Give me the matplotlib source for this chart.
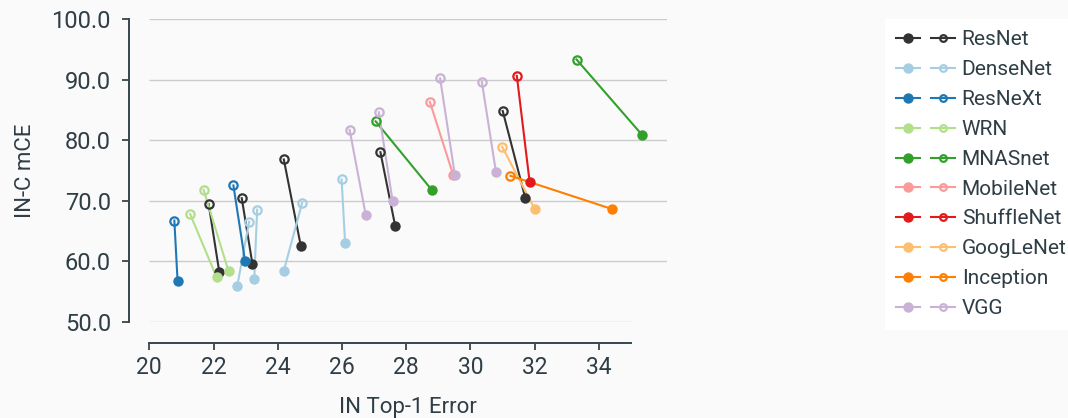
import matplotlib
matplotlib.use("Agg")
import matplotlib.pyplot as plt
from matplotlib.lines import Line2D
from matplotlib.legend_handler import HandlerTuple

# Families and their colours
families = ["ResNet", "DenseNet", "ResNeXt", "WRN", "MNASnet",
            "MobileNet", "ShuffleNet", "GoogLeNet", "Inception", "VGG"]
colors = ["#333333", "#a6cee3", "#1f78b4", "#b2df8a", "#33a02c",
          "#fb9a99", "#e31a1c", "#fdbf6f", "#ff7f00", "#cab2d6"]

# Filled markers (x = IN top-1 error, y = IN-C mCE)
filled_x = {
    "ResNet": [22.18, 23.21, 24.72, 27.66, 31.71],
    "DenseNet": [22.74, 23.27, 24.19, 26.10],
    "ResNeXt": [20.88, 22.98],
    "WRN": [22.10, 22.47],
    "MNASnet": [28.81, 35.36],
    "MobileNet": [29.47],
    "ShuffleNet": [31.85],
    "GoogLeNet": [32.01],
    "Inception": [34.42],
    "VGG": [26.74, 27.58, 29.52, 30.80],
}
filled_y = {
    "ResNet": [58.2, 59.6, 62.5, 65.8, 70.5],
    "DenseNet": [55.9, 57.1, 58.4, 63.0],
    "ResNeXt": [56.8, 60.1],
    "WRN": [57.3, 58.3],
    "MNASnet": [71.7, 80.8],
    "MobileNet": [74.2],
    "ShuffleNet": [73.0],
    "GoogLeNet": [68.6],
    "Inception": [68.6],
    "VGG": [67.7, 69.9, 74.2, 74.7],
}
# Hollow markers
hollow_x = {
    "ResNet": [21.85, 22.88, 24.19, 27.20, 31.01],
    "DenseNet": [23.11, 23.36, 24.76, 25.99],
    "ResNeXt": [20.78, 22.62],
    "WRN": [21.27, 21.69],
    "MNASnet": [27.05, 33.31],
    "MobileNet": [28.74],
    "ShuffleNet": [31.45],
    "GoogLeNet": [30.99],
    "Inception": [31.25],
    "VGG": [26.24, 27.15, 29.06, 30.36],
}
hollow_y = {
    "ResNet": [69.4, 70.4, 76.8, 78.0, 84.8],
    "DenseNet": [66.5, 68.5, 69.6, 73.5],
    "ResNeXt": [66.7, 72.5],
    "WRN": [67.8, 71.8],
    "MNASnet": [83.1, 93.3],
    "MobileNet": [86.3],
    "ShuffleNet": [90.6],
    "GoogLeNet": [78.9],
    "Inception": [74.1],
    "VGG": [81.7, 84.6, 90.2, 89.6],
}

x_ticks = [20, 22, 24, 26, 28, 30, 32, 34]
y_ticks = [50, 60, 70, 80, 90, 100]

TEXT = "#2f3e46"
BG = "#fafafa"

plt.rcParams["font.family"] = ["Roboto", "DejaVu Sans"]
plt.rcParams["text.color"] = TEXT
plt.rcParams["axes.labelcolor"] = TEXT
plt.rcParams["xtick.color"] = TEXT
plt.rcParams["ytick.color"] = TEXT

fig = plt.figure(figsize=(10.68, 4.18), dpi=100, facecolor=BG)
ax = fig.add_axes([0.1398, 0.2304, 0.4845, 0.7242], facecolor=BG)
ax.set_xlim(20, 36.12)
ax.set_ylim(50, 100)

# horizontal grid
for yv in y_ticks:
    right = 35 if yv == 50 else 36.12
    ax.plot([20, right], [yv, yv], color="#cccccc", lw=1.0, zorder=0,
            solid_capstyle="butt")

LW = 1.5
MS_FILLED = 7.5
MS_HOLLOW = 6.0
MEW = 1.6

for fam, col in zip(families, colors):
    for xa, ya, xb, yb in zip(filled_x[fam], filled_y[fam],
                              hollow_x[fam], hollow_y[fam]):
        ax.plot([xa, xb], [ya, yb], color=col, lw=LW, zorder=2)
        ax.plot([xa], [ya], "o", color=col, ms=MS_FILLED, mew=0, zorder=3)
        ax.plot([xb], [yb], "o", mfc="none", mec=col, ms=MS_HOLLOW,
                mew=MEW, zorder=3)

for s in ["top", "right"]:
    ax.spines[s].set_visible(False)
for s in ["left", "bottom"]:
    ax.spines[s].set_color("#37474f")
    ax.spines[s].set_linewidth(1.4)
ax.spines["left"].set_position(("outward", 14.6))
ax.spines["bottom"].set_position(("outward", 15.6))
ax.spines["left"].set_bounds(50, 100)
ax.spines["bottom"].set_bounds(20, 35)

ax.set_xticks(x_ticks)
ax.set_xticklabels([str(v) for v in x_ticks])
ax.set_yticks(y_ticks)
ax.set_yticklabels([f"{v:.1f}" for v in y_ticks])
ax.tick_params(axis="both", labelsize=16.5, length=5, width=1.3,
               color="#37474f")
ax.tick_params(axis="y", pad=8, labelsize=17)
ax.tick_params(axis="x", pad=4)

ax.set_xlabel("IN Top-1 Error", fontsize=16, labelpad=13)
ax.set_ylabel("IN-C mCE", fontsize=16, labelpad=11)

handles = []
for col in colors:
    h1 = Line2D([], [], color=col, lw=LW, marker="o", ms=MS_FILLED, mew=0)
    h2 = Line2D([], [], color=col, lw=LW, marker="o", mfc="none", mec=col,
                ms=MS_HOLLOW * 0.8, mew=MEW)
    handles.append((h1, h2))

FS_LEG = 15
leg = fig.legend(handles, families, loc="upper left",
                 bbox_to_anchor=(885 / 1068, 1 - 19 / 418),
                 bbox_transform=fig.transFigure, borderaxespad=0,
                 fontsize=FS_LEG, frameon=True, facecolor="white",
                 edgecolor="white", framealpha=1, fancybox=False,
                 handler_map={tuple: HandlerTuple(ndivide=None, pad=0.53)},
                 handlelength=2.8, handletextpad=0.33, labelspacing=0.52,
                 borderpad=0.55, numpoints=1)
for t in leg.get_texts():
    t.set_color(TEXT)

fig.savefig("out.png", dpi=100, facecolor=BG)
